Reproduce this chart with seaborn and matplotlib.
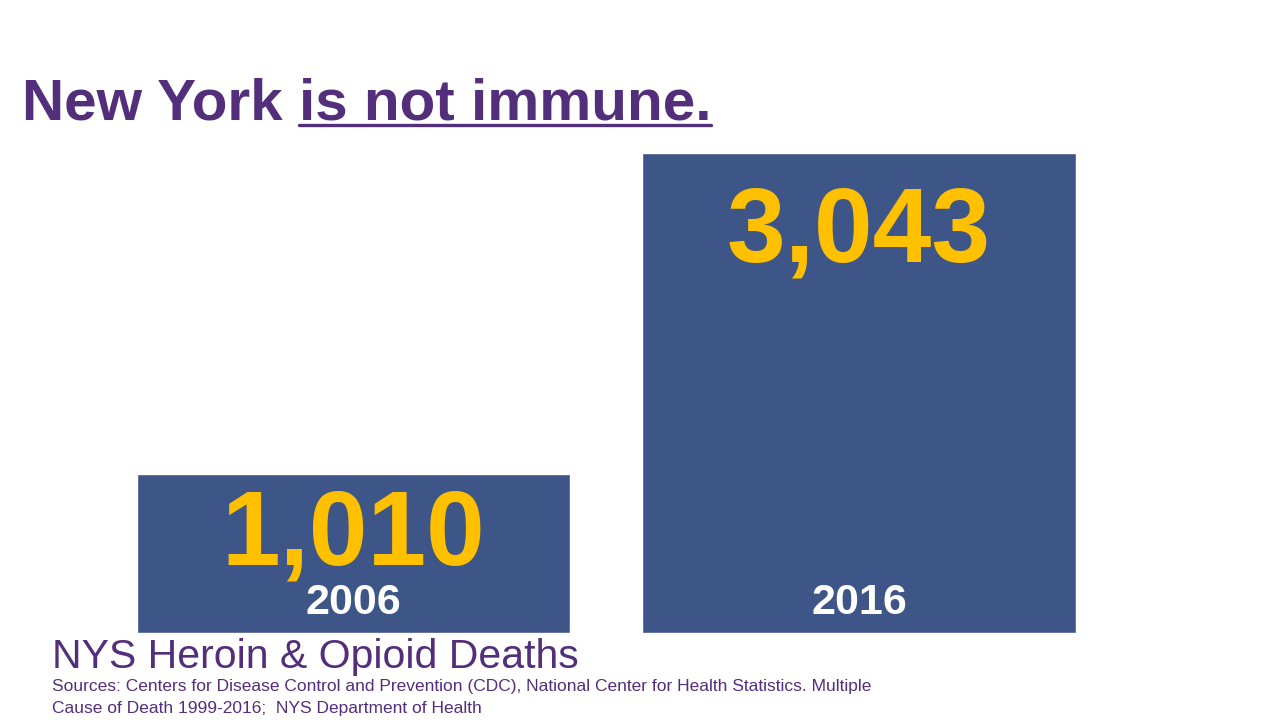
import matplotlib
matplotlib.use('Agg')
import matplotlib.pyplot as plt
import seaborn as sns
from matplotlib.lines import Line2D

years = ['2006', '2016']
deaths = [1010, 3043]
labels = ['1,010', '3,043']

purple = '#532E7B'
bar_blue = '#3D5587'
gold = '#FFC000'

sns.set_style('white')
plt.rcParams['font.family'] = ['Liberation Sans', 'DejaVu Sans']

W, H = 1280, 720
fig = plt.figure(figsize=(12.8, 7.2), dpi=100)
# axes spans full width, bars bottom at y=633px, top of 2016 at 153px
ax = fig.add_axes([0, 1 - 633 / H, 1, 480 / H])
sns.barplot(x=years, y=deaths, color=bar_blue, saturation=1, width=0.857, ax=ax)
step = 505.5
ax.set_xlim(-353.5 / step, (W - 353.5) / step)
ax.set_ylim(0, max(deaths))
ax.axis('off')

# distance (px) from bar top down to the baseline of the big number
pads = [91, 109]
for i, (v, lab, yr) in enumerate(zip(deaths, labels, years)):
    ax.annotate(lab, (i, v), xytext=(0, -pads[i] * 0.72), textcoords='offset points',
                ha='center', va='baseline', color=gold, fontsize=76, fontweight='bold')
    ax.annotate(yr, (i, 0), xytext=(0, 19 * 0.72), textcoords='offset points',
                ha='center', va='baseline', color='white', fontsize=31,
                fontweight='bold')

# title with underlined part
t1 = fig.text(22 / W, 1 - 119.5 / H, 'New York ', fontsize=42, fontweight='bold',
              color=purple, va='baseline', ha='left')
fig.canvas.draw()
r = fig.canvas.get_renderer()
bb = t1.get_window_extent(r)
x2 = bb.x1 / W
t2 = fig.text(x2, 1 - 119.5 / H, 'is not immune.', fontsize=42, fontweight='bold',
              color=purple, va='baseline', ha='left')
bb2 = t2.get_window_extent(r)
uy = 1 - 125 / H
fig.add_artist(Line2D([x2, bb2.x1 / W], [uy, uy], color=purple, lw=2.4,
                      transform=fig.transFigure))

fig.text(52 / W, 1 - 668 / H, 'NYS Heroin & Opioid Deaths', fontsize=29.5,
         color=purple, va='baseline', ha='left')
fig.text(52 / W, 1 - 691.5 / H,
         'Sources: Centers for Disease Control and Prevention (CDC), National Center for Health Statistics. Multiple',
         fontsize=12.5, color=purple, va='baseline', ha='left')
fig.text(52 / W, 1 - 713 / H, 'Cause of Death 1999-2016;  NYS Department of Health',
         fontsize=12.5, color=purple, va='baseline', ha='left')

fig.savefig('out.png', dpi=100)
